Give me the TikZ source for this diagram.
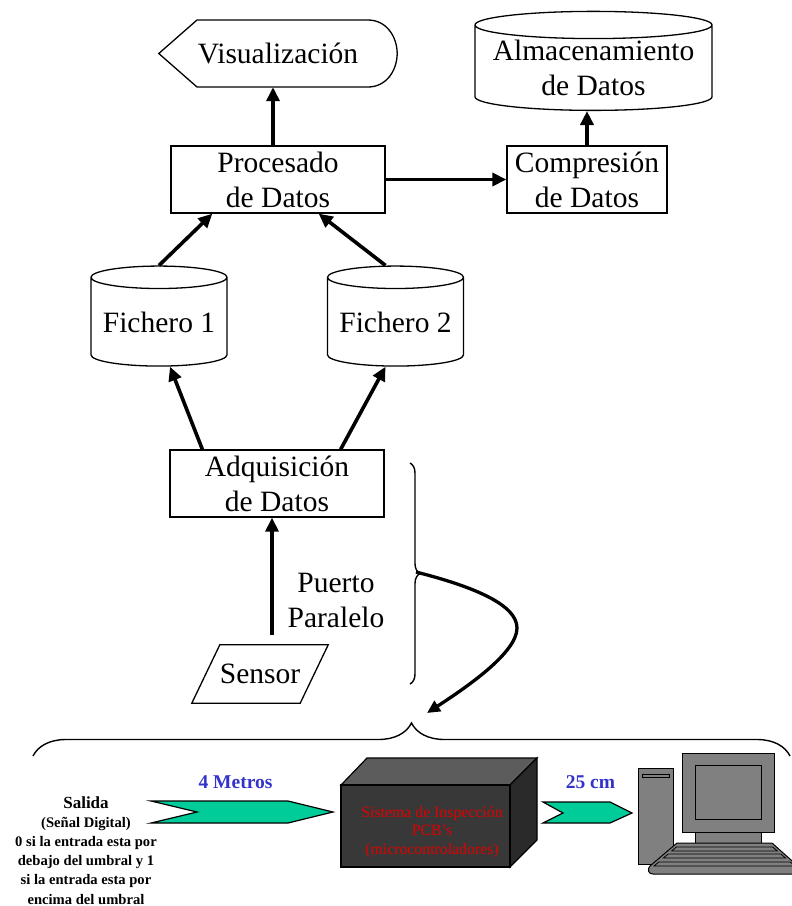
\documentclass[tikz,border=0pt]{standalone}
\usepackage{fontspec}
\setmainfont{Liberation Serif}
\usepackage{tikz}
\usetikzlibrary{arrows.meta,decorations.pathreplacing,positioning,shapes.geometric}

\definecolor{verde}{RGB}{0,204,153}
\definecolor{azul}{RGB}{51,51,204}
\definecolor{rojo}{RGB}{225,0,0}
\definecolor{gristapa}{RGB}{92,92,92}
\definecolor{grisfrente}{RGB}{56,56,56}
\definecolor{grislado}{RGB}{42,42,42}
\definecolor{grispc}{RGB}{128,128,128}

\newcommand{\textogrande}{\fontsize{29.5}{35}\selectfont}

\tikzset{
  caja/.style={draw, line width=1.3pt, align=center, inner sep=0pt, font=\textogrande},
  dato/.style={draw, cylinder, shape border rotate=90, line width=1.3pt, align=center,
               inner sep=0pt, font=\textogrande},
  flecha/.style={line width=3.6pt, -{Triangle[length=14pt,width=13pt]}},
  llave/.style={decorate, line width=1.4pt, decoration={brace, amplitude=#1}},
  llave/.default=12pt,
  chevron/.style={fill=verde, draw=black, line width=1.2pt},
  etiqueta/.style={text=azul, font=\bfseries\fontsize{19.5}{22}\selectfont},
  pieza/.style={fill=grispc, draw=black, line width=1pt}
}

\begin{document}
\begin{tikzpicture}[x=1pt, y=-1pt]
  \useasboundingbox (0,0) rectangle (792,906);

  %%%%%%%%%%%%%%%% bloques del PC %%%%%%%%%%%%%%%%
  \node[caja, minimum width=214pt, minimum height=67pt] (proc) at (278,179.5) {Procesado\\de Datos};
  \node[caja, minimum width=160pt, minimum height=67pt] (comp) at (587,179.5) {Compresión\\de Datos};
  \node[caja, minimum width=214pt, minimum height=67pt] (adq) at (277,483.5) {Adquisición\\de Datos};

  \node[dato, minimum width=136pt, minimum height=100pt, aspect=0.2] (fich1) at (159,322) {Fichero 1};
  \node[dato, minimum width=136pt, minimum height=100pt, aspect=0.2] (fich2) at (395.5,322) {Fichero 2};
  \node[dato, minimum width=237pt, minimum height=99pt, aspect=0.135] (alm) at (593.5,68) {Almacenamiento\\de Datos};

  \node[font=\textogrande, minimum width=238pt, minimum height=67pt, inner sep=0pt] (vis) at (278,53.5) {Visualización};
  \draw[line width=1.3pt] (vis.west) -- (197,20) -- (368,20)
    .. controls (386,20) and (397,36) .. (vis.east)
    .. controls (397,71) and (386,87) .. (368,87) -- (197,87) -- cycle;

  \node[font=\textogrande, minimum width=136pt, minimum height=58pt, inner sep=0pt] (sensor) at (260,674) {Sensor};
  \draw[line width=1.3pt] (sensor.south west) -- ([xshift=28pt]sensor.north west)
    -- (sensor.north east) -- ([xshift=-28pt]sensor.south east) -- cycle;

  \node[font=\textogrande, align=center] (puerto) at (336,600) {Puerto\\Paralelo};

  % flechas
  \draw[flecha] ([xshift=-5pt]proc.north) -- ([xshift=-5pt]vis.south);
  \draw[flecha] (proc.east) -- (comp.west);
  \draw[flecha] (comp.north) -- (comp.north |- alm.south);
  \draw[flecha] (fich1.north) -- ([xshift=42pt]proc.south west);
  \draw[flecha] ([xshift=-10pt]fich2.north) -- ([xshift=-67pt]proc.south east);
  \draw[flecha] ([xshift=33pt]adq.north west) -- ([xshift=11pt]fich1.south);
  \draw[flecha] ([xshift=-44pt]adq.north east) -- ([xshift=-10pt]fich2.south);
  \draw[flecha] ([xshift=12pt,yshift=10pt]sensor.north) -- ([xshift=-5pt]adq.south);

  %%%%%%%%%%%%%%%% llaves %%%%%%%%%%%%%%%%
  \draw[llave=10pt] (410,463) -- (410,684);
  \draw[llave=33pt] (33,756) -- (790,756);
  \coordinate (punta) at (416,572);
  \coordinate (destino) at (427,713);
  \draw[line width=3.3pt, -{Triangle[length=13pt,width=12pt]}] (punta)
    .. controls (475,587) and (517,605) .. (517,628)
    .. controls (517,652) and (470,685) .. (destino);

  %%%%%%%%%%%%%%%% montaje %%%%%%%%%%%%%%%%
  \node[font=\bfseries\fontsize{14.6}{19.2}\selectfont, align=center, inner sep=0pt, anchor=north] (salida) at (86,796)
    {{\fontsize{17}{19}\selectfont Salida}\\(Señal Digital)\\0 si la entrada esta por\\debajo del umbral y 1\\si la entrada esta por\\encima del umbral};

  \filldraw[chevron] (151,801) -- (288,801) -- (333,812) -- (288,823) -- (151,823) -- (197,812) -- cycle;
  \filldraw[chevron] (543,802) -- (610,802) -- (632,813) -- (610,823) -- (543,823) -- (563,813) -- cycle;
  \node[etiqueta, anchor=base] (cable1) at (235.5,788) {4 Metros};
  \node[etiqueta, anchor=base] (cable2) at (590.5,788) {25 cm};

  % caja del sistema
  \filldraw[fill=gristapa, draw=black, line width=1.2pt] (341,785) -- (367,758) -- (537,758) -- (510,785) -- cycle;
  \filldraw[fill=grislado, draw=black, line width=1.2pt] (510,785) -- (537,758) -- (537,840) -- (510,867) -- cycle;
  \node[fill=grisfrente, draw=black, line width=1.2pt, minimum width=169pt, minimum height=82pt, inner sep=0pt] (frente) at (425.5,826) {};
  \node[text=rojo, align=center, font=\fontsize{15.8}{18.5}\selectfont, inner sep=0pt] (sis) at (432,832)
    {Sistema de Inspección\\PCB’s\\(microcontroladores)};

  % ordenador
  \filldraw[pieza] (638,768) rectangle (673,864);
  \filldraw[pieza, line width=0.8pt] (642,774) rectangle (669,777);
  \filldraw[pieza] (682,753) rectangle (774,832);
  \filldraw[pieza] (695,765) rectangle (761,819);
  \filldraw[pieza] (695,832) rectangle (761,843);
  \filldraw[pieza] (677,843) -- (772,843) -- (800,868) -- (800,874) -- (653,874)
    .. controls (648,874) and (647,869) .. (650,866) -- cycle;
  \foreach \y in {847,854,862}
    \filldraw[pieza, line width=0.8pt] ({681-1.17*(\y-843)},\y) -- ({768+1.17*(\y-843)},\y)
      -- ({768+1.17*(\y+4-843)},\y+4) -- ({681-1.17*(\y+4-843)},\y+4) -- cycle;
\end{tikzpicture}
\end{document}
